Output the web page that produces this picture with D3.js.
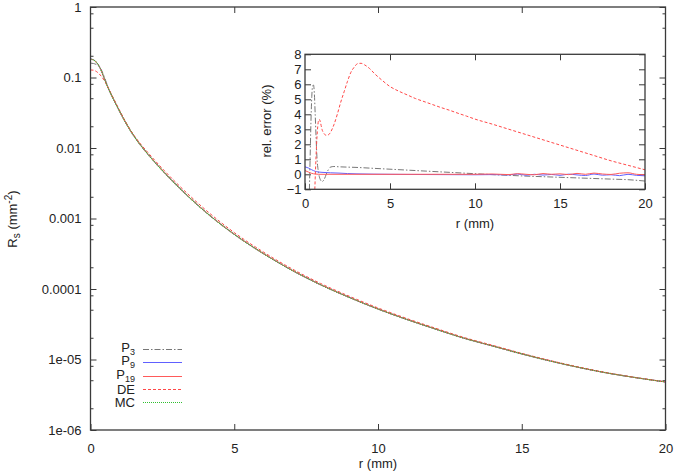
<!DOCTYPE html>
<html>
<head>
<meta charset="utf-8">
<script src="https://cdn.jsdelivr.net/npm/d3@7/dist/d3.min.js"></script>
<style>
  body { margin: 0; background: #fff; }
  svg { display: block; }
  text { font-family: "Liberation Sans", Arial, Helvetica, sans-serif; fill: #222; }
</style>
</head>
<body>
<svg id="chart" width="675" height="472"></svg>
<script>
// ---- main plot data: R_s (mm^-2) against r (mm)
var rMain = [0, 0.1, 0.2, 0.3, 0.4, 0.5, 0.6, 0.8, 1, 1.25, 1.5, 1.75, 2, 2.5, 3, 3.5, 4, 5, 6, 7, 8, 9, 10, 11, 12, 13, 14, 15, 16, 17, 18, 19, 20];
var mcMain = [0.182, 0.178, 0.165, 0.145, 0.118, 0.092, 0.073, 0.049, 0.0339, 0.0219, 0.0150, 0.01084, 0.00813, 0.00479, 0.00295, 0.00188, 0.00124, 0.000596, 0.00032, 0.000185, 0.000115, 7.6e-5, 5.2e-5, 3.7e-5, 2.7e-5, 2.0e-5, 1.55e-5, 1.2e-5, 9.5e-6, 7.7e-6, 6.4e-6, 5.5e-6, 4.8e-6];
var deMain = [0.128, 0.127, 0.122, 0.113, 0.101, 0.088, 0.0735, 0.0507, 0.0350, 0.0225, 0.0154, 0.0113, 0.0086, 0.0051, 0.00316, 0.00202, 0.00133, 0.000632, 0.000337, 0.000194, 0.00012, 7.9e-5, 5.39e-5, 3.82e-5, 2.78e-5, 2.05e-5, 1.585e-5, 1.223e-5, 9.65e-6, 7.8e-6, 6.46e-6, 5.53e-6, 4.82e-6];
var p3Main = [0.160, 0.158, 0.153, 0.143, 0.123, 0.097, 0.075, 0.049, 0.0338, 0.0219, 0.0151, 0.01089, 0.00817, 0.00481, 0.00296, 0.00189, 0.00124, 0.000598, 0.000321, 0.000185, 0.000115, 7.6e-5, 5.2e-5, 3.7e-5, 2.7e-5, 2.0e-5, 1.55e-5, 1.2e-5, 9.5e-6, 7.7e-6, 6.4e-6, 5.5e-6, 4.78e-6];
var p9Main = [0.183, 0.179, 0.165, 0.145, 0.118, 0.092, 0.073, 0.049, 0.0339, 0.0219, 0.0150, 0.01084, 0.00813, 0.00479, 0.00295, 0.00188, 0.00124, 0.000596, 0.00032, 0.000185, 0.000115, 7.6e-5, 5.2e-5, 3.7e-5, 2.7e-5, 2.0e-5, 1.55e-5, 1.2e-5, 9.5e-6, 7.7e-6, 6.4e-6, 5.5e-6, 4.8e-6];
var p19Main = [0.182, 0.178, 0.165, 0.145, 0.118, 0.092, 0.073, 0.049, 0.0339, 0.0219, 0.0150, 0.01084, 0.00813, 0.00479, 0.00295, 0.00188, 0.00124, 0.000596, 0.00032, 0.000185, 0.000115, 7.6e-5, 5.2e-5, 3.7e-5, 2.7e-5, 2.0e-5, 1.55e-5, 1.2e-5, 9.5e-6, 7.7e-6, 6.4e-6, 5.5e-6, 4.8e-6];

var xTicksMain = [0, 5, 10, 15, 20];
var yTicksMain = [1e-6, 1e-5, 1e-4, 1e-3, 1e-2, 1e-1, 1];
var yTickLabelsMain = ["1e-06", "1e-05", "0.0001", "0.001", "0.01", "0.1", "1"];
var yMinorMult = [2, 5, 8];

// ---- inset data: relative error (%) against r (mm)
var rDE = [0, 0.2, 0.4, 0.5, 0.55, 0.6, 0.65, 0.7, 0.75, 0.8, 0.85, 0.9, 0.95, 1.0, 1.1, 1.2, 1.3, 1.4, 1.5, 1.7, 1.9, 2.1, 2.3, 2.5, 2.7, 2.9, 3.1, 3.3, 3.5, 3.8, 4.1, 4.5, 5, 5.5, 6, 6.5, 7, 7.5, 8, 8.5, 9, 9.5, 10, 11, 12, 13, 14, 15, 16, 17, 18, 19, 20];
var errDE = [-30, -22, -10, -4.5, -2, -0.3, 1.2, 2.4, 3.2, 3.6, 3.65, 3.5, 3.25, 3.0, 2.75, 2.62, 2.6, 2.65, 2.8, 3.3, 4.0, 4.8, 5.5, 6.2, 6.8, 7.15, 7.38, 7.4, 7.3, 7.05, 6.7, 6.3, 5.85, 5.55, 5.3, 5.05, 4.85, 4.65, 4.45, 4.27, 4.07, 3.88, 3.68, 3.35, 3.0, 2.65, 2.3, 1.95, 1.6, 1.25, 0.9, 0.6, 0.3];

var rP3 = [0, 0.1, 0.2, 0.25, 0.3, 0.35, 0.4, 0.45, 0.5, 0.55, 0.6, 0.65, 0.7, 0.8, 0.9, 1.0, 1.1, 1.2, 1.3, 1.4, 1.5, 1.7, 2, 3, 4, 5, 6, 7, 8, 9, 10, 11, 12, 13, 14, 15, 16, 17, 18, 19, 20];
var errP3 = [-11, -8, -4, -1.5, 1, 3.5, 5.2, 5.9, 5.95, 5.4, 4, 2.5, 1.2, 0.1, -0.35, -0.48, -0.4, -0.15, 0.15, 0.35, 0.48, 0.52, 0.5, 0.46, 0.4, 0.34, 0.28, 0.22, 0.16, 0.1, 0.04, -0.02, -0.07, -0.12, -0.16, -0.2, -0.24, -0.28, -0.32, -0.36, -0.45];

var rP9 = [0, 0.2, 0.4, 0.6, 0.8, 1, 1.5, 2, 2.5, 3, 4, 5, 6, 8, 10, 11, 12, 12.5, 13, 13.5, 14, 14.5, 15, 15.5, 16, 16.5, 17, 17.5, 18, 18.5, 19, 19.5, 20];
var errP9 = [0.5, 0.42, 0.3, 0.2, 0.15, 0.13, 0.1, 0.08, 0.05, 0.03, 0.01, 0, -0.01, -0.02, -0.03, -0.02, -0.04, 0.02, -0.06, 0.0, -0.05, -0.01, -0.07, 0.01, -0.04, -0.08, 0.02, -0.06, -0.03, -0.09, 0.0, -0.07, -0.1];

var rP19 = [0, 0.2, 0.4, 0.6, 0.8, 1, 2, 3, 5, 8, 10, 11, 12, 12.5, 13, 13.5, 14, 14.5, 15, 15.5, 16, 16.5, 17, 17.5, 18, 18.5, 19, 19.5, 20];
var errP19 = [0.25, 0.15, 0.06, 0.02, 0.0, 0.0, 0.0, 0.0, 0.0, 0.0, 0.0, 0.02, -0.02, 0.04, 0.0, -0.03, 0.05, 0.0, 0.03, -0.02, 0.06, 0.0, 0.08, 0.02, -0.01, 0.07, 0.1, 0.0, -0.03];

var xTicksInset = [0, 5, 10, 15, 20];
var yTicksInset = [-1, 0, 1, 2, 3, 4, 5, 6, 7, 8];

var legendLabels = [["P", "3"], ["P", "9"], ["P", "19"], ["DE", ""], ["MC", ""]];

// ---- styles
var styles = {
  P3:  { color: "#777777", dash: "6,2,1.5,2", width: 1 },
  P9:  { color: "#6060ff", dash: null, width: 1 },
  P19: { color: "#ff5a5a", dash: null, width: 1 },
  DE:  { color: "#ff4848", dash: "3,2", width: 1 },
  MC:  { color: "#30c030", dash: "1,1", width: 1.2 }
};
var axisColor = "#3a3a3a";

var svg = d3.select("#chart");

// ================= main plot
var x = d3.scaleLinear().domain([0, 20]).range([90.5, 665.5]);
var y = d3.scaleLog().domain([1e-6, 1]).range([430, 7]);

var defs = svg.append("defs");
defs.append("clipPath").attr("id", "clipMain")
  .append("rect").attr("x", x(0)).attr("y", y(1))
  .attr("width", x(20) - x(0)).attr("height", y(1e-6) - y(1));

function styleAxis(g) {
  g.select(".domain").remove();
  g.selectAll(".tick line").attr("stroke", axisColor).attr("stroke-width", 1);
  g.selectAll(".tick text").attr("font-size", 13).attr("fill", "#222")
    .attr("font-family", "'Liberation Sans', Arial, sans-serif");
}

svg.append("g").attr("transform", "translate(0," + y(1e-6) + ")")
  .call(d3.axisBottom(x).tickValues(xTicksMain).tickFormat(d3.format("d")).tickSize(-6).tickPadding(14))
  .call(styleAxis);
svg.append("g").attr("transform", "translate(0," + y(1) + ")")
  .call(d3.axisTop(x).tickValues(xTicksMain.slice(1, -1)).tickFormat("").tickSize(-6))
  .call(styleAxis);
svg.append("g").attr("transform", "translate(" + x(0) + ",0)")
  .call(d3.axisLeft(y).tickValues(yTicksMain).tickFormat(function(d, i) { return yTickLabelsMain[i]; }).tickSize(-6).tickPadding(9))
  .call(styleAxis);
svg.append("g").attr("transform", "translate(" + x(20) + ",0)")
  .call(d3.axisRight(y).tickValues(yTicksMain).tickFormat("").tickSize(-6))
  .call(styleAxis);

// minor ticks on log axis
var minor = [];
yTicksMain.slice(0, -1).forEach(function(p) { yMinorMult.forEach(function(m) { minor.push(p * m); }); });
svg.append("g").selectAll("line").data(minor).enter().append("line")
  .attr("x1", x(0)).attr("x2", x(0) + 3)
  .attr("y1", function(d) { return y(d); }).attr("y2", function(d) { return y(d); })
  .attr("stroke", axisColor);
svg.append("g").selectAll("line").data(minor).enter().append("line")
  .attr("x1", x(20)).attr("x2", x(20) - 3)
  .attr("y1", function(d) { return y(d); }).attr("y2", function(d) { return y(d); })
  .attr("stroke", axisColor);

var lineMain = d3.line()
  .x(function(d) { return x(d[0]); })
  .y(function(d) { return y(d[1]); })
  .curve(d3.curveMonotoneX);

var mainSeries = [["P3", p3Main], ["P9", p9Main], ["P19", p19Main], ["DE", deMain], ["MC", mcMain]];
var gMain = svg.append("g").attr("clip-path", "url(#clipMain)");
mainSeries.forEach(function(s) {
  var st = styles[s[0]];
  gMain.append("path")
    .datum(d3.zip(rMain, s[1]))
    .attr("d", lineMain)
    .attr("fill", "none")
    .attr("stroke", st.color)
    .attr("stroke-width", st.width)
    .attr("stroke-dasharray", st.dash);
});

svg.append("rect").attr("x", x(0)).attr("y", y(1))
  .attr("width", x(20) - x(0)).attr("height", y(1e-6) - y(1))
  .attr("fill", "none").attr("stroke", axisColor).attr("stroke-width", 1.3);

// axis titles
svg.append("text").attr("x", (x(0) + x(20)) / 2).attr("y", 468)
  .attr("text-anchor", "middle").attr("font-size", 13).text("r (mm)");

var yl = svg.append("text").attr("transform", "translate(17,219) rotate(-90)")
  .attr("text-anchor", "middle").attr("font-size", 13);
yl.append("tspan").text("R");
yl.append("tspan").attr("font-size", 10).attr("dy", 3).text("s");
yl.append("tspan").attr("dy", -3).text(" (mm");
yl.append("tspan").attr("font-size", 10).attr("dy", -5).text("-2");
yl.append("tspan").attr("dy", 5).text(")");

// legend
var legend = svg.append("g");
mainSeries.forEach(function(s, i) {
  var st = styles[s[0]];
  var ly = Math.round(349 + i * 13.3) + 0.5;
  var sub = legendLabels[i][1];
  var t = legend.append("text").attr("x", 135).attr("y", sub ? ly + 2.5 : ly + 4.5)
    .attr("text-anchor", "end").attr("font-size", 13);
  t.append("tspan").text(legendLabels[i][0]);
  if (sub) {
    t.append("tspan").attr("font-size", 9).attr("dy", 3).text(sub);
  }
  legend.append("path").attr("d", "M143," + ly + "H182")
    .attr("fill", "none")
    .attr("stroke", st.color).attr("stroke-width", 1.2).attr("stroke-dasharray", st.dash);
});

// ================= inset
var xi = d3.scaleLinear().domain([0, 20]).range([305, 645]);
var yi = d3.scaleLinear().domain([-1, 8]).range([189.3, 54.3]);

defs.append("clipPath").attr("id", "clipInset")
  .append("rect").attr("x", xi(0)).attr("y", yi(8))
  .attr("width", xi(20) - xi(0)).attr("height", yi(-1) - yi(8));

svg.append("rect").attr("x", xi(0)).attr("y", yi(8))
  .attr("width", xi(20) - xi(0)).attr("height", yi(-1) - yi(8))
  .attr("fill", "#fff");

svg.append("g").attr("transform", "translate(0," + yi(-1) + ")")
  .call(d3.axisBottom(xi).tickValues(xTicksInset).tickFormat(d3.format("d")).tickSize(-6).tickPadding(9))
  .call(styleAxis);
svg.append("g").attr("transform", "translate(0," + yi(8) + ")")
  .call(d3.axisTop(xi).tickValues(xTicksInset.slice(1, -1)).tickFormat("").tickSize(-6))
  .call(styleAxis);
svg.append("g").attr("transform", "translate(" + xi(0) + ",0)")
  .call(d3.axisLeft(yi).tickValues(yTicksInset).tickFormat(d3.format("d")).tickSize(-6).tickPadding(3.5))
  .call(styleAxis);
svg.append("g").attr("transform", "translate(" + xi(20) + ",0)")
  .call(d3.axisRight(yi).tickValues(yTicksInset).tickFormat("").tickSize(-6))
  .call(styleAxis);

var lineInset = d3.line()
  .x(function(d) { return xi(d[0]); })
  .y(function(d) { return yi(d[1]); })
  .curve(d3.curveMonotoneX);

var insetSeries = [["P3", rP3, errP3], ["P9", rP9, errP9], ["P19", rP19, errP19], ["DE", rDE, errDE]];
var gInset = svg.append("g").attr("clip-path", "url(#clipInset)");
insetSeries.forEach(function(s) {
  var st = styles[s[0]];
  gInset.append("path")
    .datum(d3.zip(s[1], s[2]))
    .attr("d", lineInset)
    .attr("fill", "none")
    .attr("stroke", st.color)
    .attr("stroke-width", st.width)
    .attr("stroke-dasharray", st.dash);
});

svg.append("rect").attr("x", xi(0)).attr("y", yi(8))
  .attr("width", xi(20) - xi(0)).attr("height", yi(-1) - yi(8))
  .attr("fill", "none").attr("stroke", axisColor).attr("stroke-width", 1.3);

svg.append("text").attr("x", (xi(0) + xi(20)) / 2).attr("y", 228)
  .attr("text-anchor", "middle").attr("font-size", 13).text("r (mm)");
svg.append("text").attr("transform", "translate(271,121) rotate(-90)")
  .attr("text-anchor", "middle").attr("font-size", 13).text("rel. error (%)");
</script>
</body>
</html>
